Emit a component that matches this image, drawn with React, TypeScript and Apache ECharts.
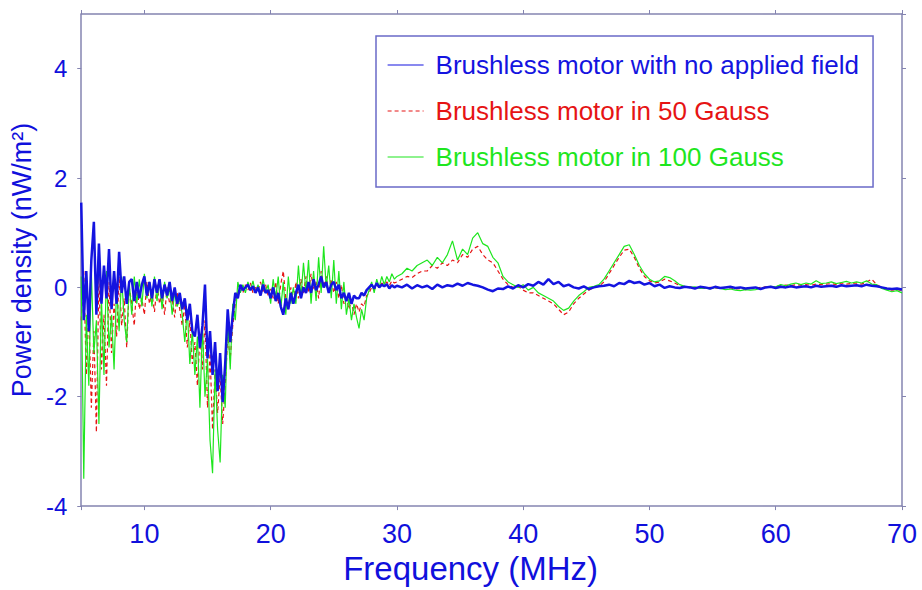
import React, { useEffect, useRef } from "react";
import * as echarts from "echarts";

const freq = [
  5, 5.2, 5.4, 5.6, 5.8, 6, 6.2, 6.4, 6.6, 6.8, 7, 7.2, 7.4, 7.6, 7.8, 8, 8.2, 8.4, 8.6, 8.8,
  9, 9.2, 9.4, 9.6, 9.8, 10, 10.2, 10.4, 10.6, 10.8, 11, 11.2, 11.4, 11.6, 11.8, 12, 12.2, 12.4, 12.6, 12.8,
  13, 13.2, 13.4, 13.6, 13.8, 14, 14.2, 14.4, 14.6, 14.8, 15, 15.2, 15.4, 15.6, 15.8, 16, 16.2, 16.4, 16.6, 16.8,
  17, 17.2, 17.4, 17.6, 17.8, 18, 18.2, 18.4, 18.6, 18.8, 19, 19.2, 19.4, 19.6, 19.8, 20, 20.2, 20.4, 20.6, 20.8,
  21, 21.2, 21.4, 21.6, 21.8, 22, 22.2, 22.4, 22.6, 22.8, 23, 23.2, 23.4, 23.6, 23.8, 24, 24.2, 24.4, 24.6, 24.8,
  25, 25.2, 25.4, 25.6, 25.8, 26, 26.2, 26.4, 26.6, 26.8, 27, 27.2, 27.4, 27.6, 27.8, 28, 28.2, 28.4, 28.6, 28.8,
  29, 29.2, 29.4, 29.6, 29.8, 30,
  30.4, 30.8, 31.2, 31.6, 32, 32.4, 32.8, 33.2, 33.6, 34, 34.4, 34.8, 35.2, 35.6, 36, 36.4, 36.8, 37.2, 37.6, 38,
  38.4, 38.8, 39.2, 39.6, 40, 40.4, 40.8, 41.2, 41.6, 42, 42.4, 42.8, 43.2, 43.6, 44, 44.4, 44.8, 45.2, 45.6, 46,
  46.4, 46.8, 47.2, 47.6, 48, 48.4, 48.8, 49.2, 49.6, 50, 50.4, 50.8, 51.2, 51.6, 52, 52.4, 52.8, 53.2, 53.6, 54,
  54.4, 54.8, 55.2, 55.6, 56, 56.4, 56.8, 57.2, 57.6, 58, 58.4, 58.8, 59.2, 59.6, 60, 60.4, 60.8, 61.2, 61.6, 62,
  62.4, 62.8, 63.2, 63.6, 64, 64.4, 64.8, 65.2, 65.6, 66, 66.4, 66.8, 67.2, 67.6, 68, 68.4, 68.8, 69.2, 69.6, 70,
];

const noField = [
  1.55, -0.6, 0.3, -0.8, 0.5, 1.2, -0.5, 0.8, -0.3, 0.4, -0.2, 0.7, -0.4, 0.3, -0.3, 0.65, -0.1, 0.2, -0.3, 0.1,
  0.15, -0.25, 0.1, -0.2, 0.05, 0.2, -0.15, 0.1, -0.2, 0.15, -0.1, 0.15, -0.2, 0.05, -0.15, 0.1, -0.25, 0.0, -0.3, -0.1,
  -0.4, -0.2, -0.6, -0.3, -0.8, -0.9, -0.5, -1.1, -0.7, 0.05, -1.3, -0.8, -1.6, -1.0, -1.9, -1.2, -2.1, -1.4, -0.4, -1.0,
  -0.5, -0.1, -0.2, 0.05, -0.05, 0.0, 0.05, -0.05, 0.02, -0.1, 0.0, -0.15, 0.05, -0.1, -0.05, -0.2, 0.0, -0.25, -0.1, -0.35,
  -0.5, -0.2, -0.4, -0.1, -0.3, -0.1, 0.05, -0.2, 0.0, -0.1, 0.1, -0.1, 0.15, -0.05, 0.05, 0.2, 0.0, 0.1, -0.1, 0.05,
  0.1, -0.05, 0.05, -0.2, -0.1, -0.25, -0.1, -0.3, -0.15, -0.2, -0.2, -0.1, -0.15, -0.05, 0.0, 0.05, -0.02, 0.08, 0.0, 0.05,
  0.02, 0.06, -0.02, 0.04, 0.0, 0.03,
  0.0, 0.05, -0.02, 0.04, 0.0, 0.03, -0.03, 0.05, 0.0, 0.04, 0.02, 0.07, 0.03, 0.08, 0.05, 0.03, 0.0, -0.04, -0.07, -0.02,
  -0.03, 0.02, -0.02, 0.04, 0.0, 0.06, 0.03, 0.1, 0.05, 0.15, 0.06, 0.1, 0.02, 0.05, 0.0, -0.02, 0.02, -0.03, 0.0, 0.02,
  0.03, 0.05, 0.02, 0.08, 0.06, 0.12, 0.08, 0.1, 0.05, 0.08, 0.02, 0.05, -0.01, 0.02, 0.0, -0.01, 0.01, 0.0, -0.02, 0.01,
  0.0, -0.02, 0.01, -0.01, 0.0, 0.01, -0.01, 0.0, -0.02, -0.01, 0.0, -0.03, 0.0, 0.01, -0.01, 0.01, 0.0, 0.02, 0.0, 0.01,
  0.02, 0.0, 0.03, 0.01, 0.02, 0.03, 0.01, 0.04, 0.02, 0.03, 0.04, 0.02, 0.05, 0.03, 0.02, 0.0, -0.02, -0.03, -0.02, -0.04,
];

const gauss50 = [
  -0.6, 0.3, -1.6, -0.4, -2.2, -0.8, -2.65, 0.2, -1.5, -0.5, -1.8, 0.1, -1.2, -0.3, -0.9, 0.2, -0.7, -0.2, -1.1, 0.0,
  -0.3, -0.7, 0.1, -0.4, -0.2, -0.5, 0.1, -0.3, -0.1, -0.45, 0.05, -0.3, -0.1, -0.5, 0.0, -0.3, -0.2, -0.55, -0.1, -0.4,
  -0.7, -0.3, -1.1, -0.6, -1.4, -1.0, -1.8, -0.9, -1.5, -0.6, -2.2, -1.2, -2.6, -1.5, -2.3, -1.6, -2.5, -1.8, -0.9, -1.3,
  -0.7, -0.3, -0.1, 0.0, -0.1, 0.05, -0.05, 0.08, -0.1, 0.0, -0.05, 0.1, -0.1, 0.05, -0.15, 0.0, -0.2, 0.1, -0.3, 0.05,
  0.3, -0.2, -0.4, 0.0, -0.3, 0.1, -0.2, 0.15, -0.1, 0.2, -0.1, 0.25, -0.05, 0.1, -0.2, 0.3, 0.0, 0.2, -0.1, 0.15,
  -0.1, 0.1, -0.2, 0.05, -0.3, -0.2, -0.4, -0.25, -0.5, -0.3, -0.45, -0.3, -0.35, -0.15, -0.1, 0.0, -0.05, 0.05, 0.0, 0.08,
  0.05, 0.1, 0.03, 0.12, 0.08, 0.1,
  0.15, 0.2, 0.18, 0.25, 0.3, 0.3, 0.4, 0.35, 0.45, 0.4, 0.5, 0.45, 0.6, 0.55, 0.7, 0.75, 0.6, 0.5, 0.45, 0.3,
  0.15, 0.05, 0.0, 0.02, -0.05, -0.1, -0.1, -0.15, -0.2, -0.25, -0.3, -0.4, -0.5, -0.45, -0.3, -0.2, -0.12, -0.05, 0.0, 0.02,
  0.1, 0.25, 0.4, 0.55, 0.68, 0.7, 0.55, 0.35, 0.2, 0.12, 0.08, 0.1, 0.15, 0.12, 0.08, 0.03, 0.0, 0.01, -0.01, 0.0,
  -0.02, 0.0, -0.01, -0.02, 0.0, -0.01, -0.03, -0.02, -0.04, -0.02, -0.02, 0.0, 0.01, 0.0, 0.02, 0.03, 0.04, 0.03, 0.05, 0.04,
  0.05, 0.04, 0.06, 0.05, 0.06, 0.07, 0.05, 0.08, 0.06, 0.07, 0.08, 0.06, 0.1, 0.15, 0.05, 0.0, -0.03, -0.05, -0.04, -0.06,
];

const gauss100 = [
  0.2, -3.5, -0.5, -1.8, 0.3, -1.2, -0.6, -2.5, -0.2, -1.6, 0.3, -1.1, -0.5, -1.5, 0.0, -0.8, 0.2, -0.6, -1.0, 0.1,
  -0.5, 0.2, -0.3, 0.15, -0.35, 0.25, -0.2, 0.1, -0.35, 0.2, -0.25, 0.15, -0.4, 0.1, -0.2, 0.0, -0.5, -0.1, -0.35, -0.2,
  -0.5, -1.0, -0.4, -1.4, -0.8, -1.6, -0.9, -2.2, -0.7, -2.0, -1.3, -2.8, -3.4, -1.5, -2.6, -3.2, -1.6, -2.2, -0.6, -1.5,
  -0.3, -0.6, 0.1, -0.1, 0.05, -0.1, 0.1, -0.05, 0.12, -0.1, 0.05, -0.15, 0.15, -0.1, 0.05, -0.3, 0.15, -0.2, 0.2, -0.4,
  0.1, -0.5, 0.2, -0.3, 0.0, -0.3, 0.4, -0.2, 0.45, -0.1, 0.5, -0.3, 0.3, -0.25, 0.55, -0.1, 0.75, 0.0, 0.4, -0.2,
  0.5, -0.3, 0.3, -0.4, 0.1, -0.5, -0.2, -0.6, -0.3, -0.55, -0.75, -0.4, -0.6, -0.2, -0.05, 0.1, -0.1, 0.15, 0.0, 0.2,
  0.05, 0.2, 0.1, 0.25, 0.15, 0.2,
  0.25, 0.35, 0.3, 0.4, 0.45, 0.5, 0.4, 0.55, 0.45, 0.6, 0.85, 0.5, 0.7, 0.6, 0.9, 1.0, 0.8, 0.75, 0.55, 0.45,
  0.2, 0.1, 0.05, 0.0, 0.05, -0.05, 0.0, -0.1, -0.15, -0.2, -0.25, -0.35, -0.42, -0.38, -0.25, -0.15, -0.08, 0.0, 0.02, 0.05,
  0.15, 0.3, 0.45, 0.6, 0.75, 0.78, 0.6, 0.4, 0.25, 0.15, 0.1, 0.12, 0.2, 0.18, 0.12, 0.05, 0.02, 0.0, 0.01, -0.02,
  -0.01, -0.03, 0.0, -0.02, -0.04, -0.03, -0.05, -0.06, -0.04, -0.05, -0.04, -0.02, 0.0, 0.02, 0.01, 0.05, 0.03, 0.06, 0.08, 0.05,
  0.08, 0.06, 0.12, 0.07, 0.08, 0.1, 0.07, 0.09, 0.11, 0.08, 0.1, 0.08, 0.12, 0.06, 0.05, -0.02, -0.05, -0.08, -0.06, -0.1,
];

const seriesNames = [
  "Brushless motor with no applied field",
  "Brushless motor in 50 Gauss",
  "Brushless motor in 100 Gauss",
];
const xTicks = [10, 20, 30, 40, 50, 60, 70];
const yTicks = [-4, -2, 0, 2, 4];

const FONT = "'Liberation Sans', Arial, sans-serif";
const BLUE = "#1414e0";
const RED = "#e61414";
const GREEN = "#1ee61e";
const AXIS = "#8484b0";
const LABEL = "#1010dc";

export default function App() {
  const ref = useRef<HTMLDivElement>(null);
  useEffect(() => {
    if (!ref.current) return;
    const chart = echarts.init(ref.current, undefined, { renderer: "svg" });
    const pairs = (vals: number[]) => freq.map((f, i) => [f, vals[i]]);
    const axisBase = {
      type: "value" as const,
      axisLine: { show: true, onZero: false, lineStyle: { color: AXIS, width: 1.5 } },
      axisTick: { show: true, inside: false, length: 4, lineStyle: { color: AXIS } },
      splitLine: { show: false },
    };
    chart.setOption({
      animation: false,
      backgroundColor: "#ffffff",
      grid: { left: 77, right: 20, top: 14, bottom: 78, containLabel: false },
      legend: {
        orient: "vertical",
        left: 376,
        top: 36,
        padding: [16, 14, 17, 11],
        borderColor: "#6a6ac8",
        borderWidth: 1.5,
        backgroundColor: "#ffffff",
        itemWidth: 36,
        itemHeight: 14,
        itemGap: 20,
        itemStyle: { opacity: 0 },
        lineStyle: { width: 1.2 },
        textStyle: { fontFamily: FONT, fontSize: 26, padding: [0, 0, 0, 7] },
        data: [
          { name: seriesNames[0], textStyle: { color: BLUE } },
          { name: seriesNames[1], textStyle: { color: RED } },
          { name: seriesNames[2], textStyle: { color: GREEN } },
        ],
      },
      xAxis: [
        {
          ...axisBase,
          min: 5,
          max: 70,
          name: "Frequency (MHz)",
          nameLocation: "middle",
          nameGap: 38,
          nameTextStyle: { fontFamily: FONT, fontSize: 33, color: LABEL, padding: [0, 42, 0, 0] },
          axisLabel: {
            fontFamily: FONT,
            fontSize: 27,
            color: LABEL,
            margin: 14,
            formatter: (v: number) => (xTicks.includes(v) ? String(v) : ""),
          },
        },
        {
          ...axisBase,
          position: "top",
          min: 5,
          max: 70,
          axisLabel: { show: false },
        },
      ],
      yAxis: [
        {
          ...axisBase,
          min: -4,
          max: 5,
          interval: 2,
          name: "Power density (nW/m²)",
          nameLocation: "middle",
          nameGap: 33,
          nameTextStyle: { fontFamily: FONT, fontSize: 27, color: LABEL },
          axisLabel: {
            fontFamily: FONT,
            fontSize: 24,
            color: LABEL,
            margin: 14,
            showMaxLabel: false,
            formatter: (v: number) => (yTicks.includes(v) ? String(v) : ""),
          },
        },
        {
          ...axisBase,
          position: "right",
          min: -4,
          max: 5,
          interval: 2,
          axisLabel: { show: false },
        },
      ],
      series: [
        {
          name: seriesNames[0],
          type: "line",
          data: pairs(noField),
          symbol: "none",
          z: 4,
          lineStyle: { color: BLUE, width: 2.5 },
          itemStyle: { color: BLUE },
        },
        {
          name: seriesNames[1],
          type: "line",
          data: pairs(gauss50),
          symbol: "none",
          z: 2,
          lineStyle: { color: RED, width: 1.2, type: [4, 3] },
          itemStyle: { color: RED },
        },
        {
          name: seriesNames[2],
          type: "line",
          data: pairs(gauss100),
          symbol: "none",
          z: 3,
          lineStyle: { color: GREEN, width: 1.2 },
          itemStyle: { color: GREEN },
        },
      ],
    });
    return () => chart.dispose();
  }, []);
  return (
    <div
      ref={ref}
      style={{ position: "absolute", left: 0, top: 0, width: 922, height: 590, background: "#fff" }}
    />
  );
}
